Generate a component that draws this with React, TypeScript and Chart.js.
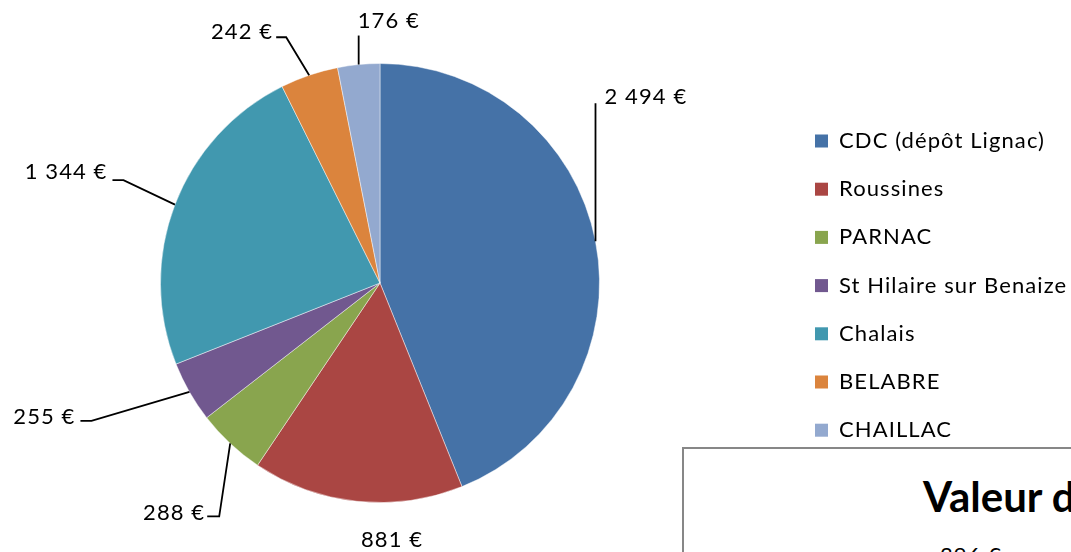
import React, { useEffect, useRef } from "react";
import { Chart, registerables } from "chart.js";

Chart.register(...registerables);

const categories = [
  "CDC (dépôt Lignac)",
  "Roussines",
  "PARNAC",
  "St Hilaire sur Benaize",
  "Chalais",
  "BELABRE",
  "CHAILLAC",
];
const values = [2494, 881, 288, 255, 1344, 242, 176];
const colors = ["#4572A7", "#AA4643", "#89A54E", "#71588F", "#4198AF", "#DB843D", "#93A9CF"];

// label leader-line styling (offsets from the slice's outer mid point)
type LabelStyle = { elbow: [number, number] | null; tail: number; text: [number, number]; align: CanvasTextAlign };
const labelStyles: LabelStyle[] = [
  { elbow: [0, -138], tail: 0, text: [9, -6], align: "left" },
  { elbow: null, tail: 0, text: [35, 39], align: "center" },
  { elbow: [-11, 73], tail: -12, text: [-2, -4], align: "right" },
  { elbow: [-98, 29], tail: -11, text: [-5, -4], align: "right" },
  { elbow: [-51.5, -24.5], tail: -11, text: [-5, -8], align: "right" },
  { elbow: [-23, -38], tail: -10, text: [-3, -5], align: "right" },
  { elbow: [0, -29], tail: 0, text: [-1, -15], align: "left" },
];

const FONT = "Lato, 'Noto Sans', sans-serif";
const SPACING = "1.1px";
const SIZE = 22;

function fmt(v: number): string {
  return String(v).replace(/\B(?=(\d{3})+(?!\d))/g, " ") + " €";
}

const labelPlugin = {
  id: "excelLabels",
  afterDatasetsDraw(chart: any) {
    const ctx = chart.ctx as CanvasRenderingContext2D;
    const meta = chart.getDatasetMeta(0);
    const ds = chart.data.datasets[0];
    ctx.save();
    (ctx as any).letterSpacing = SPACING;
    meta.data.forEach((arc: any, i: number) => {
      const p = arc.getProps(["x", "y", "startAngle", "endAngle", "outerRadius"], true);
      const mid = (p.startAngle + p.endAngle) / 2;
      const ex = p.x + Math.cos(mid) * p.outerRadius;
      const ey = p.y + Math.sin(mid) * p.outerRadius;
      const st = labelStyles[i];
      let endX = ex;
      let endY = ey;
      if (st.elbow) {
        const bx = ex + st.elbow[0];
        const by = ey + st.elbow[1];
        endX = bx + st.tail;
        endY = by;
        ctx.beginPath();
        ctx.strokeStyle = "#000";
        ctx.lineWidth = 1.8;
        ctx.moveTo(ex, ey);
        ctx.lineTo(bx, by);
        if (st.tail !== 0) ctx.lineTo(endX, endY);
        ctx.stroke();
      }
      ctx.fillStyle = "#000";
      ctx.font = `${SIZE}px ${FONT}`;
      ctx.textAlign = st.align;
      ctx.textBaseline = "middle";
      ctx.fillText(fmt(ds.data[i]), endX + st.text[0], endY + st.text[1]);
    });

    // legend
    const lx = 815;
    const ly0 = 141;
    const step = 48.2;
    chart.data.labels.forEach((lab: string, i: number) => {
      const cy = ly0 + i * step;
      ctx.fillStyle = ds.backgroundColor[i];
      ctx.fillRect(lx, cy - 6.5, 13, 13);
      ctx.fillStyle = "#000";
      ctx.font = `${SIZE}px ${FONT}`;
      ctx.textAlign = "left";
      ctx.textBaseline = "middle";
      ctx.fillText(lab, 839, cy);
    });
    ctx.restore();
  },
};

export default function App() {
  const ref = useRef<HTMLCanvasElement | null>(null);
  useEffect(() => {
    document.body.style.margin = "0";
    if (!ref.current) return;
    const chart = new Chart(ref.current, {
      type: "pie",
      data: {
        labels: categories,
        datasets: [
          {
            data: values,
            backgroundColor: colors,
            borderColor: "rgba(255,255,255,0.45)",
            borderWidth: 1,
            hoverOffset: 0,
          },
        ],
      },
      options: {
        responsive: false,
        animation: false,
        devicePixelRatio: 1,
        layout: { padding: { left: 160, right: 471, top: 63, bottom: 49 } },
        plugins: { legend: { display: false }, tooltip: { enabled: false } },
      },
      plugins: [labelPlugin],
    });
    return () => chart.destroy();
  }, []);

  return (
    <div
      style={{
        position: "fixed",
        left: 0,
        top: 0,
        width: 1071,
        height: 552,
        overflow: "hidden",
        background: "#fff",
      }}
    >
      <canvas ref={ref} width={1071} height={552} style={{ display: "block" }} />
      <div
        style={{
          position: "absolute",
          left: 682,
          top: 447,
          width: 700,
          height: 300,
          border: "2px solid #878787",
          background: "#fff",
          boxSizing: "border-box",
        }}
      >
        <div
          style={{
            position: "absolute",
            left: 239,
            top: 22,
            font: `bold 42px ${FONT}`,
            whiteSpace: "nowrap",
            color: "#000",
            lineHeight: "50px",
          }}
        >
          Valeur des stocks
        </div>
        <div
          style={{
            position: "absolute",
            left: 256,
            top: 92,
            font: `${SIZE}px ${FONT}`,
            letterSpacing: SPACING,
            whiteSpace: "nowrap",
            color: "#000",
          }}
        >
          396 €
        </div>
      </div>
    </div>
  );
}
